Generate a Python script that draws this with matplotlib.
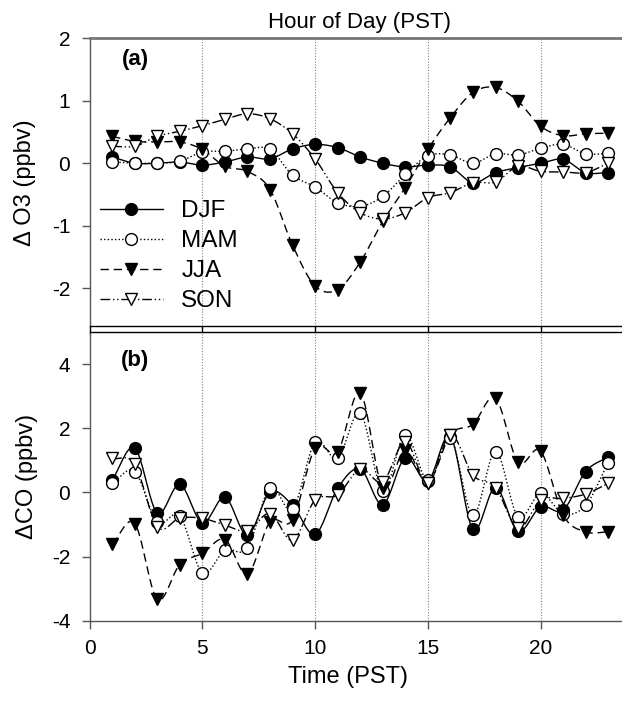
import numpy as np
import matplotlib
matplotlib.use("Agg")
import matplotlib.pyplot as plt
from matplotlib.lines import Line2D

plt.rcParams['font.family'] = ['Liberation Sans', 'DejaVu Sans']
plt.rcParams['axes.unicode_minus'] = False

hours = list(range(1, 24))
seasons = ['DJF', 'MAM', 'JJA', 'SON']

# Panel (a): delta O3 (ppbv)
o3_djf = [0.10, 0.00, 0.00, 0.02, -0.03, 0.02, 0.10, 0.07, 0.23, 0.30, 0.25, 0.10,
          0.00, -0.06, -0.03, -0.06, -0.31, -0.15, -0.07, 0.00, 0.06, -0.15, -0.15]
o3_mam = [0.02, 0.00, 0.00, 0.03, 0.18, 0.19, 0.23, 0.22, -0.19, -0.38, -0.63, -0.69,
          -0.53, -0.18, 0.12, 0.13, 0.00, 0.15, 0.13, 0.24, 0.30, 0.15, 0.16]
o3_jja = [0.43, 0.35, 0.34, 0.34, 0.22, -0.05, -0.13, -0.42, -1.31, -1.96, -2.02, -1.58,
          -0.93, -0.39, 0.22, 0.73, 1.13, 1.21, 0.99, 0.59, 0.44, 0.47, 0.48]
o3_son = [0.27, 0.27, 0.43, 0.51, 0.60, 0.70, 0.79, 0.71, 0.47, 0.07, -0.47, -0.79,
          -0.89, -0.79, -0.55, -0.47, -0.31, -0.30, -0.05, -0.13, -0.14, -0.15, 0.00]

# Panel (b): delta CO (ppbv)
co_djf = [0.39, 1.38, -0.64, 0.25, -0.95, -0.15, -1.33, 0.00, -0.40, -1.31, 0.13, 0.73,
          -0.38, 1.08, 0.35, 1.74, -1.15, 0.15, -1.21, -0.45, -0.55, 0.65, 1.11]
co_mam = [0.28, 0.65, -0.92, -0.74, -2.50, -1.80, -1.73, 0.15, -0.53, 1.56, 1.06, 2.47,
          0.05, 1.79, 0.38, 1.69, -0.71, 1.27, -0.76, -0.03, -0.66, -0.40, 0.93]
co_jja = [-1.61, -0.97, -3.33, -2.25, -1.90, -1.47, -2.55, -0.92, -0.85, 1.38, 1.27, 3.11,
          0.15, 1.32, 0.30, 1.80, 2.12, 2.94, 0.94, 1.29, -0.71, -1.23, -1.23]
co_son = [1.06, 0.88, -1.07, -0.80, -0.81, -1.02, -1.20, -0.66, -1.49, -0.24, -0.08, 0.73,
          0.33, 1.58, 0.28, 1.80, 0.54, 0.15, -1.12, -0.24, -0.19, -0.05, 0.28]

xticks = [0, 5, 10, 15, 20]
yticks_a = [-2, -1, 0, 1, 2]
yticks_b = [-4, -2, 0, 2, 4]

styles = {
    'DJF': dict(ls='-', marker='o', mfc='black'),
    'MAM': dict(ls=(0, (1, 1.6)), marker='o', mfc='white'),
    'JJA': dict(ls=(0, (6, 3.5)), marker='v', mfc='black'),
    'SON': dict(ls=(0, (7, 2, 1, 2, 1, 2)), marker='v', mfc='white'),
}


def smooth(x, y, n=20):
    """Catmull-Rom curve through the data points (for drawing the line only)."""
    x = np.asarray(x, float)
    y = np.asarray(y, float)
    px = np.concatenate([[2 * x[0] - x[1]], x, [2 * x[-1] - x[-2]]])
    py = np.concatenate([[2 * y[0] - y[1]], y, [2 * y[-1] - y[-2]]])
    t = np.linspace(0, 1, n, endpoint=False)
    xs, ys = [], []
    for i in range(1, len(px) - 2):
        for P, out in ((px, xs), (py, ys)):
            p0, p1, p2, p3 = P[i - 1], P[i], P[i + 1], P[i + 2]
            out.extend(0.5 * ((2 * p1) + (-p0 + p2) * t + (2 * p0 - 5 * p1 + 4 * p2 - p3) * t ** 2
                              + (-p0 + 3 * p1 - 3 * p2 + p3) * t ** 3))
    xs.append(x[-1])
    ys.append(y[-1])
    return np.array(xs), np.array(ys)


W, H = 622, 703
fig = plt.figure(figsize=(W / 100, H / 100), dpi=100)
x0, x1 = 89.6, 630.8
ax1 = fig.add_axes([x0 / W, 1 - 326 / H, (x1 - x0) / W, (326 - 38) / H])
ax2 = fig.add_axes([x0 / W, 1 - 620.7 / H, (x1 - x0) / W, (620.7 - 332) / H])

data_a = dict(zip(seasons, [o3_djf, o3_mam, o3_jja, o3_son]))
data_b = dict(zip(seasons, [co_djf, co_mam, co_jja, co_son]))

spine_gray = '#555555'
for ax, data, yl, yt in ((ax1, data_a, (-2.6, 2), yticks_a), (ax2, data_b, (-4, 5), yticks_b)):
    for xv in [5, 10, 15, 20]:
        ax.axvline(xv, color='#808080', lw=0.8, ls=(0, (1, 1.5)), zorder=1)
    for s in seasons:
        sx, sy = smooth(hours, data[s])
        ax.plot(sx, sy, color='black', lw=1.0, ls=styles[s]['ls'], zorder=2)
    for k, s in enumerate(seasons):
        ax.plot(hours, data[s], ls='none', marker=styles[s]['marker'], ms=8.5,
                mfc=styles[s]['mfc'], mec='black', mew=1.0, zorder=3 + k)
    ax.set_xlim(0, 24)
    ax.set_ylim(*yl)
    ax.set_yticks(yt)
    ax.set_xticks(xticks)
    ax.tick_params(axis='both', direction='out', length=6, width=1, labelsize=15,
                   color=spine_gray)
    ax.tick_params(axis='y', pad=8)
    ax.tick_params(axis='x', pad=7)
    for sp in ax.spines.values():
        sp.set_linewidth(1.0)
    ax.spines['left'].set_color(spine_gray)
    ax.spines['right'].set_visible(False)

ax1.tick_params(axis='x', labelbottom=False, color='black')
ax1.spines['top'].set_color('#777777')
ax1.spines['top'].set_linewidth(2.0)
ax1.spines['bottom'].set_color('black')
ax2.spines['top'].set_color('black')
ax2.spines['bottom'].set_color(spine_gray)

ax1.text(1.45, 1.82, '(a)', fontsize=16, fontweight='bold', ha='left', va='top')
ax2.text(1.40, 4.45, '(b)', fontsize=16, fontweight='bold', ha='left', va='top')

handles = [Line2D([], [], color='black', lw=1.0, ls=styles[s]['ls'], marker=styles[s]['marker'],
                  ms=8.5, mfc=styles[s]['mfc'], mec='black') for s in seasons]
ax1.legend(handles, seasons, loc='lower left', bbox_to_anchor=(0.01, 0.03), frameon=False,
           fontsize=17.5, handlelength=2.6, handletextpad=0.75, labelspacing=0.33,
           borderaxespad=0, borderpad=0.2, numpoints=1)

fig.text(25 / W, 1 - 183 / H, 'Δ O3 (ppbv)', rotation=90, ha='center', va='center', fontsize=17)
fig.text(27 / W, 1 - 476 / H, 'ΔCO (ppbv)', rotation=90, ha='center', va='center', fontsize=17)
fig.text(347.5 / W, 1 - 683.3 / H, 'Time (PST)', ha='center', va='baseline', fontsize=17)
fig.text(360 / W, 1 - 28.3 / H, 'Hour of Day (PST)', ha='center', va='baseline', fontsize=16)

fig.savefig('out.png', dpi=100)
